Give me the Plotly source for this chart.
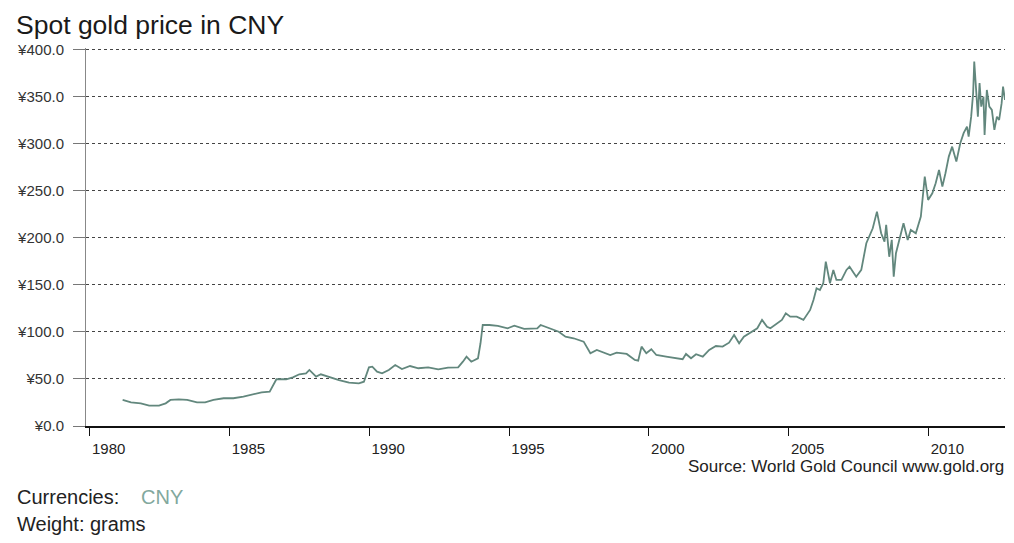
import plotly.graph_objects as go

# Decimal year of each reading and spot gold price (CNY per gram)
years = [
    1981.18, 1981.48, 1981.83, 1982.13, 1982.48, 1982.72, 1982.89, 1983.19, 1983.49, 1983.84,
    1984.13, 1984.43, 1984.79, 1985.14, 1985.50, 1985.85, 1986.15, 1986.44, 1986.56, 1986.68,
    1987.03, 1987.27, 1987.50, 1987.74, 1987.86, 1988.10, 1988.27, 1988.69, 1988.92, 1989.28,
    1989.63, 1989.81, 1989.99, 1990.11, 1990.28, 1990.46, 1990.70, 1990.93, 1991.17, 1991.46,
    1991.76, 1992.11, 1992.47, 1992.82, 1993.18, 1993.35, 1993.48, 1993.65, 1993.89, 1993.98,
    1994.06, 1994.30, 1994.60, 1994.95, 1995.19, 1995.54, 1996.01, 1996.13, 1996.49, 1996.78,
    1997.02, 1997.31, 1997.67, 1997.91, 1998.14, 1998.32, 1998.62, 1998.85, 1999.21, 1999.50,
    1999.62, 1999.74, 1999.91, 2000.09, 2000.27, 2000.62, 2001.21, 2001.33, 2001.51, 2001.69,
    2001.93, 2002.16, 2002.40, 2002.64, 2002.87, 2003.05, 2003.23, 2003.40, 2003.70, 2003.88,
    2004.05, 2004.23, 2004.35, 2004.58, 2004.76, 2004.90, 2005.06, 2005.29, 2005.53, 2005.77,
    2005.89, 2006.00, 2006.12, 2006.24, 2006.33, 2006.48, 2006.60, 2006.71, 2006.89, 2007.07,
    2007.18, 2007.30, 2007.42, 2007.60, 2007.78, 2008.01, 2008.16, 2008.31, 2008.43, 2008.49,
    2008.60, 2008.69, 2008.76, 2008.84, 2008.96, 2009.11, 2009.26, 2009.37, 2009.55, 2009.73,
    2009.87, 2009.99, 2010.14, 2010.26, 2010.38, 2010.50, 2010.61, 2010.73, 2010.85, 2011.00,
    2011.14, 2011.26, 2011.38, 2011.44, 2011.53, 2011.60, 2011.64, 2011.72, 2011.77, 2011.83,
    2011.89, 2011.97, 2012.01, 2012.09, 2012.18, 2012.27, 2012.36, 2012.45, 2012.53, 2012.62,
    2012.67, 2012.74,
]
prices = [
    27.7, 25.2, 24.1, 21.6, 21.6, 24.1, 27.7, 28.4, 27.7, 25.2,
    25.2, 27.7, 29.5, 29.5, 31.2, 33.7, 35.8, 36.5, 43.6, 49.7,
    49.7, 51.8, 55.0, 56.0, 59.6, 52.5, 55.0, 50.7, 48.9, 46.1,
    45.4, 47.1, 62.4, 63.1, 57.8, 56.0, 59.6, 64.9, 60.6, 63.8,
    61.4, 62.4, 60.3, 62.0, 62.4, 68.4, 73.7, 68.4, 72.0, 88.0,
    107.4, 107.4, 106.4, 103.9, 106.7, 103.2, 103.9, 107.4, 103.9, 100.3,
    95.0, 93.3, 89.7, 77.3, 80.9, 79.0, 75.5, 78.0, 76.6, 70.2,
    69.5, 84.4, 77.3, 81.6, 75.5, 73.7, 71.0, 76.6, 72.0, 76.3,
    73.7, 80.9, 85.1, 84.4, 88.6, 96.8, 88.0, 95.0, 100.3, 103.9,
    112.8, 105.6, 103.9, 109.3, 112.8, 119.9, 116.3, 116.3, 112.8, 123.4,
    134.0, 146.5, 144.7, 151.8, 174.8, 151.8, 166.0, 155.3, 155.3, 166.0,
    169.5, 164.1, 158.8, 166.0, 194.4, 210.3, 228.0, 205.0, 196.0, 213.8,
    180.0, 197.9, 158.8, 183.7, 197.9, 215.6, 197.9, 208.5, 205.0, 222.7,
    265.2, 240.4, 247.5, 258.2, 272.3, 254.6, 268.8, 286.5, 297.1, 281.2,
    300.7, 311.4, 318.4, 307.8, 329.0, 353.9, 387.6, 357.4, 329.0, 364.6,
    339.7, 350.3, 309.6, 357.4, 339.7, 336.2, 314.9, 329.0, 325.5, 343.3,
    361.0, 346.8,
]

x_ticks = [1980, 1985, 1990, 1995, 2000, 2005, 2010]
x_tick_labels = ["1980", "1985", "1990", "1995", "2000", "2005", "2010"]
y_ticks = [0, 50, 100, 150, 200, 250, 300, 350, 400]
y_tick_labels = ["\u00a5%.1f" % v for v in y_ticks]

title_text = "Spot gold price in CNY"
source_text = "Source: World Gold Council www.gold.org"

FONT = "Liberation Sans, Arial, sans-serif"
LINE_COLOR = "#62877d"

# The page body has an 8px margin, so the figure is sized to fit the window.
fig = go.Figure()
fig.add_trace(go.Scatter(
    x=years, y=prices, mode="lines",
    line=dict(color=LINE_COLOR, width=1.8),
    hoverinfo="skip", showlegend=False,
))

fig.update_layout(
    width=1006, height=535,
    margin=dict(l=70, r=9, t=40, b=117),
    paper_bgcolor="white", plot_bgcolor="white",
    font=dict(family=FONT, color="#222"),
    showlegend=False,
)

fig.update_xaxes(
    range=[1979.87, 2012.74],
    tickvals=x_ticks, ticktext=x_tick_labels,
    ticks="outside", ticklen=8, tickwidth=1.2, tickcolor="#111",
    showline=True, linecolor="#111", linewidth=1.6,
    showgrid=False, zeroline=False,
    tickfont=dict(size=15, color="#222"),
    ticklabelshift=19,
)
fig.update_yaxes(
    range=[0, 402],
    tickvals=y_ticks, ticktext=y_tick_labels,
    ticks="outside", ticklen=12, tickwidth=1, tickcolor="#777",
    showline=True, linecolor="#888", linewidth=1,
    showgrid=True, gridcolor="#444", griddash="dot", gridwidth=1,
    zeroline=False,
    tickfont=dict(size=15, color="#333"),
    ticklabelstandoff=6,
)

# plot area in window pixels: x 78..1005, y 48..426
def px_x(px):
    return (px - 78) / 927.0

def px_y(py):
    return (426 - py) / 378.0

fig.add_annotation(
    text=title_text, xref="paper", yref="paper",
    x=px_x(5), y=px_y(25), xanchor="left", yanchor="middle",
    showarrow=False, font=dict(size=26.5, color="#1a1a1a", family=FONT),
)
fig.add_annotation(
    text=source_text, xref="paper", yref="paper",
    x=px_x(1006), y=px_y(466), xanchor="right", yanchor="middle",
    showarrow=False, font=dict(size=17, color="#222", family=FONT),
)
fig.add_annotation(
    text="Currencies:", xref="paper", yref="paper",
    x=px_x(6), y=px_y(497), xanchor="left", yanchor="middle",
    showarrow=False, font=dict(size=20, color="#222", family=FONT),
)
fig.add_annotation(
    text="CNY", xref="paper", yref="paper",
    x=px_x(131), y=px_y(497), xanchor="left", yanchor="middle",
    showarrow=False, font=dict(size=20, color="#82a89d", family=FONT),
)
fig.add_annotation(
    text="Weight: grams", xref="paper", yref="paper",
    x=px_x(6), y=px_y(524), xanchor="left", yanchor="middle",
    showarrow=False, font=dict(size=20, color="#222", family=FONT),
)

fig.write_html("out.html")
